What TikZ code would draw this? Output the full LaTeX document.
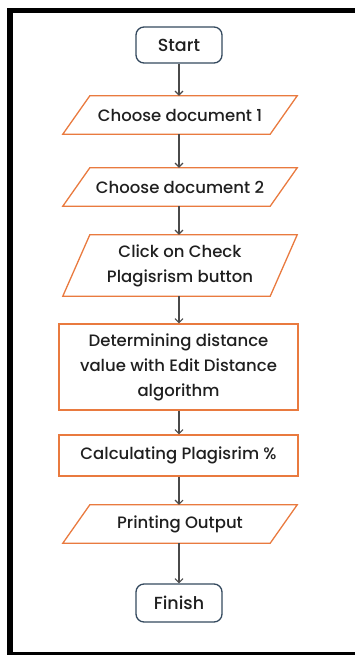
\documentclass[tikz,border=0pt]{standalone}
\usepackage{fontspec}
\IfFontExistsTF{Poppins Medium}{\setmainfont{Poppins Medium}}{\setmainfont{Poppins}[FakeBold=0.6]}
\usetikzlibrary{arrows.meta}
\definecolor{orng}{HTML}{E97A3F}
\definecolor{navy}{HTML}{34495E}
\definecolor{arr}{HTML}{4A4A4A}
\definecolor{txt}{HTML}{1F1F1F}
\newcommand\parashape[1]{\draw[para] ([xshift=27pt]#1.north west) -- (#1.north east) -- ([xshift=-27pt]#1.south east) -- (#1.south west) -- cycle;}
\begin{document}
\begin{tikzpicture}[x=1pt,y=-1pt,
  lbl/.style={font=\fontsize{16.5}{25}\selectfont, text=txt, align=center, inner sep=0pt},
  term/.style={lbl, draw=navy, line width=1.3pt, rounded corners=8pt, minimum width=86pt, minimum height=36pt},
  proc/.style={lbl, draw=orng, line width=1.3pt, minimum width=239pt},
  io/.style={lbl, minimum width=234pt},
  para/.style={draw=orng, line width=1.3pt, line join=miter},
  flow/.style={draw=arr, line width=1.1pt, -{Straight Barb[length=4pt,width=8pt]}}]
\useasboundingbox (0,0) rectangle (355,655);
\fill[black] (7,8) rectangle (13,655);
\fill[black] (7,8) rectangle (355,13);
\fill[black] (7,652) rectangle (355,655);

\node[term, font=\fontsize{17.5}{25}\selectfont] (start) at (179,45) {Start};
\node[io, minimum height=38pt] (d1) at (180,115) {Choose document 1};
\node[io, minimum height=38pt] (d2) at (180,187) {Choose document 2};
\node[io, minimum height=61pt] (chk) at (180,265.5) {Click on Check\\Plagisrism button};
\node[proc, minimum height=86pt] (ed) at (178.5,367) {Determining distance\\value with Edit Distance\\algorithm};
\node[proc, minimum height=41pt] (calc) at (178.5,455.5) {Calculating Plagisrim \%};
\node[io, minimum height=38pt] (out) at (180,524) {Printing Output};
\node[term, minimum height=38pt, font=\fontsize{17.5}{25}\selectfont] (fin) at (179,603) {Finish};

\parashape{d1}
\parashape{d2}
\parashape{chk}
\parashape{out}

\draw[flow] (start.south -| 179,0) -- (d1.north -| 179,0);
\draw[flow] (d1.south -| 179,0) -- (d2.north -| 179,0);
\draw[flow] (d2.south -| 179,0) -- (chk.north -| 179,0);
\draw[flow] (chk.south -| 179,0) -- (ed.north -| 179,0);
\draw[flow] (ed.south -| 179,0) -- (calc.north -| 179,0);
\draw[flow] (calc.south -| 179,0) -- (out.north -| 179,0);
\draw[flow] (out.south -| 179,0) -- (fin.north -| 179,0);
\end{tikzpicture}
\end{document}
